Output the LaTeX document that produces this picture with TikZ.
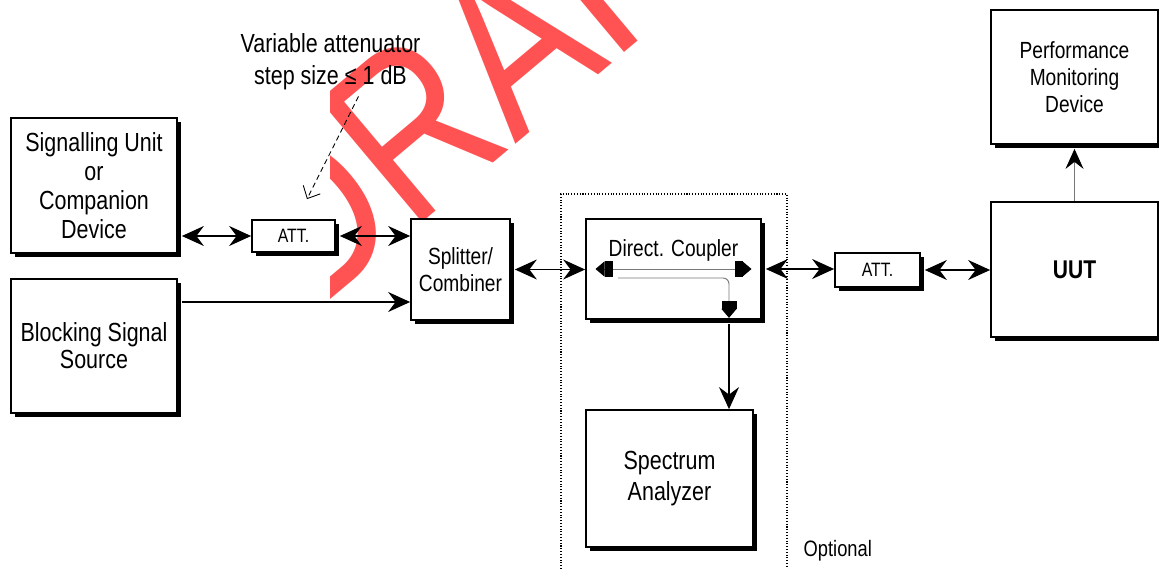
\documentclass[tikz,border=0pt]{standalone}
\usepackage{fontspec}
\setmainfont{Liberation Sans}[FakeStretch=0.82]
\usetikzlibrary{arrows.meta, positioning, shadows}
\definecolor{draftred}{RGB}{255,82,82}
\definecolor{wiregray}{RGB}{120,120,120}
\tikzstyle{unitbox} = [rectangle, draw=black, line width=1pt, fill=white, align=center, inner sep=2pt, font=\fontsize{14.9}{16.5}\selectfont, drop shadow={shadow xshift=2.2pt, shadow yshift=-2.2pt, fill=black, opacity=1}]
\tikzstyle{attbox} = [unitbox, minimum height=0.64cm, font=\fontsize{11}{12}\selectfont]
\tikzstyle{twoway} = [line width=0.6pt, {Stealth[length=4.4mm,width=4mm,inset=1.5mm]}-{Stealth[length=4.4mm,width=4mm,inset=1.5mm]}]
\tikzstyle{oneway} = [line width=0.6pt, -{Stealth[length=4.4mm,width=4mm,inset=1.5mm]}]
\tikzstyle{inner} = [wiregray, line width=0.55pt]
\tikzstyle{hint} = [densely dashed, line width=0.5pt, -{Straight Barb[length=2mm,width=3.8mm]}]

\begin{document}
\begin{tikzpicture}[node distance=3.21cm]
\useasboundingbox (0,0) rectangle (23.18,-11.38);

% watermark
\begin{scope}
\clip (6.6,0) rectangle (23.18,-11.38);
\node (draft) [draftred, rotate=40, anchor=base west, inner sep=0pt, font=\fontsize{132}{132}\selectfont] at (6.10,-6.42) {DRAFT};
\end{scope}

% optional part
\draw [densely dotted, line width=0.6pt] (11.22,-11.38) |- (15.74,-3.88) -- (15.74,-11.38);
\node (opt) [anchor=west, font=\fontsize{12.7}{14}\selectfont] at (15.95,-11.02) {Optional};

\node (sig) [unitbox, minimum width=3.32cm, minimum height=2.70cm] at (1.88,-3.71) {Signalling Unit\\or\\Companion\\Device};
\node (blk) [unitbox, below of=sig, minimum width=3.32cm, minimum height=2.68cm, font=\fontsize{14.9}{15.4}\selectfont] {Blocking Signal\\Source};
\node (attA) [attbox, minimum width=1.66cm] at (5.87,-4.72) {ATT.};
\node (split) [unitbox, minimum width=1.98cm, minimum height=2.02cm, font=\fontsize{13.3}{15.4}\selectfont] at (9.21,-5.39) {Splitter/\\Combiner};
\node (cpl) [unitbox, minimum width=3.50cm, minimum height=2.00cm, label={[anchor=north, yshift=-0.3cm, font=\fontsize{13.3}{15}\selectfont]north:Direct. Coupler}] at (13.47,-5.38) {};
\node (spec) [unitbox, below of=cpl, node distance=4.19cm, xshift=-0.08cm, minimum width=3.34cm, minimum height=2.74cm, font=\fontsize{14.9}{17.6}\selectfont] {Spectrum\\Analyzer};
\node (attB) [attbox, minimum width=1.70cm, minimum height=0.68cm] at (17.55,-5.40) {ATT.};
\node (uut) [unitbox, minimum width=3.34cm, minimum height=2.70cm, font=\fontsize{14.6}{16}\selectfont\bfseries] at (21.49,-5.39) {UUT};
\node (pmd) [unitbox, above of=uut, node distance=3.85cm, minimum width=3.34cm, minimum height=2.68cm, font=\fontsize{13.3}{15.4}\selectfont] {Performance\\Monitoring\\Device};
\node (note) [align=center, font=\fontsize{14.9}{18.2}\selectfont] at (6.61,-1.24) {Variable attenuator\\step size ≤ 1 dB};

\draw [twoway] ([xshift=0.08cm]attA.west -| sig.east) -- (attA.west);
\draw [twoway] ([xshift=0.08cm]attA.east) -- (attA.east -| split.west);
\coordinate (blkin) at ([yshift=-0.65cm]split.west);
\draw [oneway] ([xshift=0.08cm]blkin -| blk.east) -- (blkin);
\draw [twoway] ([xshift=0.08cm]split.east) -- (split.east -| cpl.west);
\draw [twoway] ([xshift=0.08cm]cpl.east) -- (cpl.east -| attB.west);
\draw [twoway] ([xshift=0.08cm]attB.east) -- (attB.east -| uut.west);
\draw [oneway, draw=wiregray, -{Stealth[length=4mm,width=3.6mm,inset=1.4mm,color=black]}] (uut.north) -- ([yshift=-0.08cm]pmd.south);

% coupler inside
\coordinate (tap) at ([xshift=1.11cm]cpl.south);
\draw [inner, {Triangle[length=1.8mm,width=3mm,sep=0pt,color=black]Square[length=1.6mm,width=3mm,sep=0pt,color=black]}-{Square[length=1.6mm,width=3mm,sep=0pt,color=black]Triangle[length=1.8mm,width=3mm,sep=0pt,color=black]}] ([xshift=-1.56cm]cpl.center) -- ([xshift=1.56cm]cpl.center);
\draw [inner, rounded corners=0.12cm, -{Square[length=1.6mm,width=3mm,sep=0pt,color=black]Triangle[length=1.8mm,width=3mm,sep=0pt,color=black]}] ([xshift=-1.11cm,yshift=-0.18cm]cpl.center) -| ([yshift=0.04cm]tap);
\draw [oneway] ([yshift=-0.08cm]tap) -- (tap |- spec.north);

\draw [hint] ([xshift=0.56cm]note.south) -- ([xshift=0.27cm,yshift=0.4cm]attA.north);

\end{tikzpicture}
\end{document}
